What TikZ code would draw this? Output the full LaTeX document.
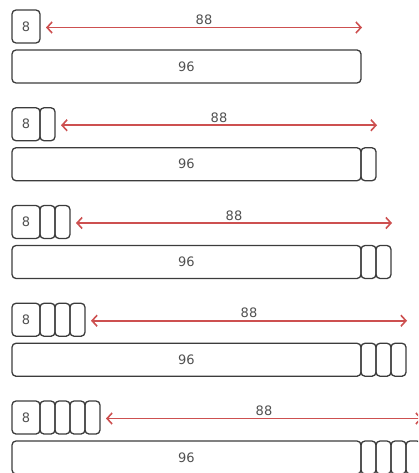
\documentclass[tikz,border=0pt]{standalone}
\usepackage{fontspec}
\setmainfont{DejaVu Sans}
\usetikzlibrary{arrows.meta}
\definecolor{boxline}{RGB}{60,60,60}
\definecolor{txtgray}{RGB}{80,80,80}
\definecolor{arrred}{RGB}{205,80,80}
\begin{document}
\begin{tikzpicture}[x=1pt,y=-1pt,
  cell/.style={draw=boxline, line width=1.3pt, rounded corners=4pt, inner sep=0pt,
    outer sep=0pt, anchor=north west, minimum height=33pt, text=txtgray,
    font=\fontsize{13}{15}\selectfont},
  smallbox/.style={cell, minimum width=28pt},
  bigbox/.style={cell, minimum width=349pt},
  extra/.style={cell, minimum width=15pt},
  conn/.style={draw=arrred, line width=1.6pt, {Straight Barb[length=5pt,width=11pt]}-{Straight Barb[length=5pt,width=11pt]}},
  lbl/.style={text=txtgray, inner sep=2pt, font=\fontsize{13}{15}\selectfont}]
\useasboundingbox (0,0) rectangle (418,473);
\clip (0,0) rectangle (418,473);
\foreach \r in {0,...,4}{
  \pgfmathsetmacro{\ty}{10+97.75*\r}
  \pgfmathsetmacro{\by}{\ty+40}
  \node[smallbox] (s\r0) at (12,\ty) {8};
  \node[bigbox] (b\r0) at (12,\by) {96};
  \ifnum\r>0
    \foreach \k [evaluate=\k as \p using int(\k-1)] in {1,...,\r}{
      \node[extra] (s\r\k) at (s\r\p.north east) {};
      \node[extra] (b\r\k) at (b\r\p.north east) {};
    }
  \fi
  \coordinate (a\r) at ([xshift=6pt,yshift=-1pt]s\r\r.east);
  \coordinate (e\r) at ([xshift=316pt]a\r);
  \draw[conn] (a\r) -- node[above, lbl] {88} (e\r);
}
\end{tikzpicture}
\end{document}
